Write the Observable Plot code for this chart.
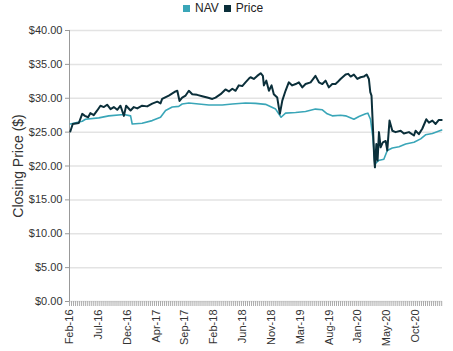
<!DOCTYPE html>
<html>
<head>
<meta charset="utf-8">
<script src="https://cdn.jsdelivr.net/npm/d3@7"></script>
<script src="https://cdn.jsdelivr.net/npm/@observablehq/plot@0.6"></script>
<style>
  html, body { margin: 0; padding: 0; background: #fff; }
  #wrap { position: relative; width: 453px; height: 351px; font-family: "Liberation Sans", Arial, sans-serif; }
  #legend { position: absolute; left: 183px; top: 1px; display: flex; align-items: center; font-size: 12px; color: #222; z-index: 2; }
  #legend .sw { width: 7px; height: 7px; display: inline-block; margin-right: 5px; }
  #legend .item { display: flex; align-items: center; margin-right: 5px; }
  #chart { position: absolute; left: 0; top: 0; }
</style>
</head>
<body>
<div id="wrap">
  <div id="legend"></div>
  <div id="chart"></div>
</div>
<script>
const seriesNames = ["NAV", "Price"];
const seriesColors = ["#3aa6b8", "#0b2f3a"];

const priceDates = ["2016-02-12","2016-02-24","2016-03-25","2016-04-11","2016-04-24","2016-05-10","2016-05-21","2016-06-07","2016-06-24","2016-07-10","2016-07-27","2016-08-12","2016-08-29","2016-09-14","2016-10-01","2016-10-17","2016-11-03","2016-11-14","2016-12-06","2016-12-22","2017-01-08","2017-02-01","2017-02-26","2017-03-23","2017-04-17","2017-05-03","2017-05-11","2017-06-13","2017-07-16","2017-07-25","2017-08-05","2017-08-18","2017-09-04","2017-09-20","2017-10-07","2017-10-31","2017-11-25","2017-12-20","2018-01-14","2018-01-30","2018-02-24","2018-03-20","2018-04-06","2018-04-23","2018-05-09","2018-05-25","2018-06-11","2018-06-27","2018-07-14","2018-07-22","2018-08-07","2018-08-24","2018-09-10","2018-09-21","2018-09-26","2018-10-08","2018-10-21","2018-11-03","2018-11-14","2018-12-01","2018-12-14","2018-12-26","2019-01-11","2019-01-27","2019-02-13","2019-03-02","2019-03-18","2019-04-04","2019-04-20","2019-05-15","2019-06-08","2019-06-25","2019-07-12","2019-07-28","2019-08-13","2019-08-30","2019-09-15","2019-09-24","2019-10-10","2019-11-04","2019-11-17","2019-11-29","2019-12-15","2020-01-01","2020-01-17","2020-02-02","2020-02-16","2020-02-27","2020-03-05","2020-03-11","2020-03-18","2020-03-25","2020-03-28","2020-04-04","2020-04-10","2020-04-17","2020-04-25","2020-05-06","2020-05-20","2020-05-28","2020-06-08","2020-06-22","2020-07-08","2020-08-02","2020-08-18","2020-09-12","2020-10-07","2020-10-15","2020-10-31","2020-11-17","2020-12-07","2020-12-20","2021-01-06","2021-01-22","2021-02-07","2021-02-21"];
const priceValues = [25.1,26.2,26.35,27.7,27.4,27.2,27.8,27.5,28.2,28.9,28.7,29.05,28.4,28.7,28.3,28.9,27.4,28.9,28.2,28.7,28.5,28.9,28.8,29.2,29.5,29.25,29.9,30.4,31.0,31.1,29.6,30.1,30.4,31.1,30.6,30.5,30.3,30.1,29.9,30.1,30.6,31.3,31.0,31.4,31.1,31.9,31.8,32.35,32.9,33.1,32.85,33.3,33.7,33.3,31.9,32.6,31.1,31.9,30.6,30.1,27.7,29.65,31.1,32.35,31.9,32.1,32.35,31.6,32.1,32.35,33.3,32.35,32.1,32.6,31.6,32.1,32.1,32.35,32.85,33.5,33.6,33.2,33.5,32.85,33.1,33.2,33.5,32.85,30.9,30.4,25.7,20.8,19.8,23.25,20.8,25.0,22.75,23.5,23.7,22.3,26.7,25.2,25.0,25.2,24.8,25.0,24.5,25.2,24.7,25.5,26.9,26.4,26.7,26.2,26.8,26.8];

const navDates = ["2016-02-12","2016-04-11","2016-04-27","2016-07-02","2016-08-20","2016-11-03","2016-12-06","2016-12-14","2017-02-01","2017-03-23","2017-05-03","2017-05-28","2017-06-30","2017-08-01","2017-08-18","2017-09-20","2017-11-08","2017-12-28","2018-03-04","2018-04-23","2018-06-27","2018-08-16","2018-10-04","2018-11-23","2018-12-20","2019-01-11","2019-03-02","2019-04-20","2019-06-08","2019-07-12","2019-08-05","2019-08-30","2019-10-10","2019-11-04","2019-12-15","2020-01-09","2020-02-11","2020-02-22","2020-03-06","2020-03-18","2020-03-28","2020-04-14","2020-05-11","2020-05-28","2020-06-22","2020-07-25","2020-08-27","2020-10-07","2020-11-09","2020-12-03","2021-01-06","2021-02-21"];
const navValues = [26.2,26.6,26.9,27.1,27.4,27.6,27.4,26.2,26.3,26.7,27.2,28.2,28.7,28.8,29.15,29.3,29.15,29.0,29.0,29.15,29.3,29.25,29.1,28.4,27.2,27.8,27.9,28.05,28.4,28.3,27.7,27.4,27.5,27.4,26.9,27.3,27.7,27.8,26.9,24.2,20.3,20.8,21.0,22.3,22.65,22.85,23.25,23.5,24.0,24.6,24.8,25.3];

const xTickLabels = ["Feb-16","Jul-16","Dec-16","Apr-17","Sep-17","Feb-18","Jun-18","Nov-18","Mar-19","Aug-19","Jan-20","May-20","Oct-20"];
const yTicks = [0, 5, 10, 15, 20, 25, 30, 35, 40];
const xStart = "2016-02-08";
const xEnd = "2021-02-25";
const labelStepDays = 142.58;

// Build table
const rows = [];
navDates.forEach((d, i) => rows.push({date: new Date(d), value: navValues[i], series: "NAV"}));
priceDates.forEach((d, i) => rows.push({date: new Date(d), value: priceValues[i], series: "Price"}));

const t0 = new Date(xStart);
const t1 = new Date(xEnd);
const DAY = 864e5;
const labelDates = xTickLabels.map((_, k) => new Date(+t0 + Math.round(k * labelStepDays * DAY)));
const labelMap = new Map(labelDates.map((d, k) => [+d, xTickLabels[k]]));
const minorTicks = d3.range(+t0, +t1 + 1, 10 * DAY).map(t => new Date(t));

// Legend
const legend = document.getElementById("legend");
seriesNames.forEach((n, i) => {
  const it = document.createElement("span");
  it.className = "item";
  it.innerHTML = `<span class="sw" style="background:${seriesColors[i]}"></span><span>${n}</span>`;
  legend.appendChild(it);
});

const chart = Plot.plot({
  width: 453,
  height: 351,
  marginLeft: 69,
  marginRight: 11,
  marginTop: 30,
  marginBottom: 50,
  style: {fontFamily: "'Liberation Sans', Arial, sans-serif", fontSize: "11px", color: "#333", background: "transparent"},
  x: {type: "utc", domain: [t0, t1], axis: null},
  y: {domain: [0, 40], axis: null},
  color: {domain: seriesNames, range: seriesColors},
  marks: [
    Plot.gridY(yTicks, {stroke: "#e3e3e3", strokeOpacity: 1, strokeWidth: 1.5}),
    Plot.axisY({
      ticks: yTicks,
      tickFormat: d => "$" + d.toFixed(2),
      tickSize: 4,
      tickPadding: 3,
      stroke: "#999",
      label: "Closing Price ($)",
      labelAnchor: "center",
      labelArrow: false,
      labelOffset: 56,
      fontSize: 11
    }),
    Plot.ruleX([t0], {stroke: "#999"}),
    Plot.axisX({
      ticks: minorTicks,
      tickSize: 5,
      tickFormat: () => "",
      stroke: "#aaa",
      label: null
    }),
    Plot.axisX({
      ticks: labelDates,
      tickSize: 0,
      tickPadding: 8,
      tickRotate: -90,
      tickFormat: d => labelMap.get(+d) || "",
      label: null,
      fontSize: 11
    }),
    Plot.line(rows.filter(r => r.series === "NAV"), {x: "date", y: "value", stroke: "series", strokeWidth: 1.6, curve: "linear"}),
    Plot.line(rows.filter(r => r.series === "Price"), {x: "date", y: "value", stroke: "series", strokeWidth: 2, curve: "linear"})
  ]
});
document.getElementById("chart").appendChild(chart);
// axis label font size
chart.querySelectorAll("text").forEach(t => {
  if (t.textContent === "Closing Price ($)") t.setAttribute("font-size", "14");
});
</script>
</body>
</html>
